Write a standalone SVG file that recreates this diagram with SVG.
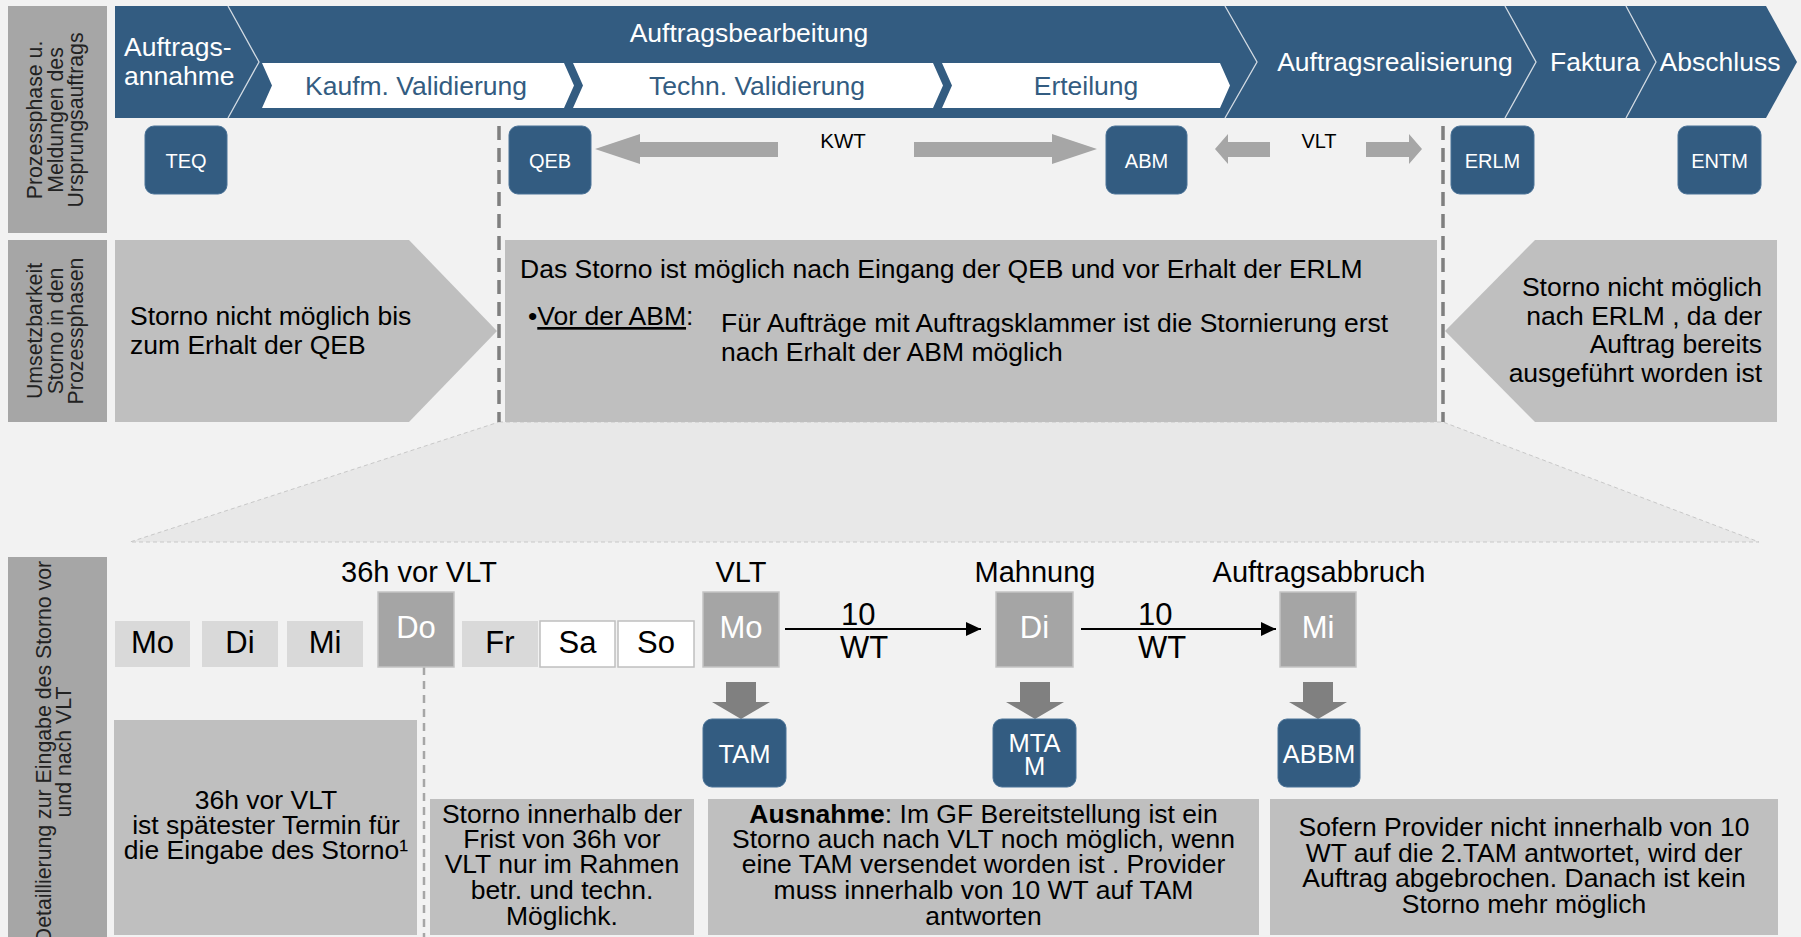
<svg xmlns="http://www.w3.org/2000/svg" width="1801" height="937" viewBox="0 0 1801 937">
<defs>
<style>
text{font-family:"Liberation Sans",Arial,sans-serif}
.lbl{fill:#a6a6a6}
.lbltx{font-size:21.3px;fill:#222}
.ban{fill:#335c81}
.sep{fill:none;stroke:#d3dbe3;stroke-width:1.3}
.wch{fill:#fff}
.wt{fill:#fff;font-size:26.5px}
.bt{fill:#335c81;font-size:26.5px}
.msg{fill:#335c81;stroke:#4a7297;stroke-width:1}
.mt{fill:#fff;font-size:20px}
.mt2{fill:#fff;font-size:25.5px}
.g1{fill:#bfbfbf}
.tx{fill:#000;font-size:26.5px}
.blk{fill:#a6a6a6}
.dash{stroke:#7f7f7f;stroke-width:3.5;stroke-dasharray:14 8;fill:none}
.day{fill:#d9d9d9}
.dayw{fill:#fff;stroke:#bfbfbf;stroke-width:1.5}
.bigd{fill:#a5a5a5;stroke:#c4c4c4;stroke-width:1.5}
.dt{font-size:31px;fill:#000}
.dtw{font-size:31px;fill:#fff}
.top{font-size:29px;fill:#000}
.darr{fill:#808080}
.conn{stroke:#000;stroke-width:2;fill:none}
</style>
<marker id="ah" markerWidth="16" markerHeight="14" refX="15" refY="7" orient="auto" markerUnits="userSpaceOnUse">
<path d="M0,0 L15,7 L0,14 Z" fill="#000"/>
</marker>
</defs>
<rect width="1801" height="937" fill="#f2f2f2"/>

<g id="labels">
<rect class="lbl" x="8" y="6" width="99" height="227"/>
<text class="lbltx" transform="translate(0,120) rotate(-90)" text-anchor="middle"><tspan x="0" y="42">Prozessphase u.</tspan><tspan x="0" y="62.5">Meldungen des</tspan><tspan x="0" y="83">Ursprungsauftrags</tspan></text>
<rect class="lbl" x="8" y="240" width="99" height="182"/>
<text class="lbltx" transform="translate(0,331) rotate(-90)" text-anchor="middle"><tspan x="0" y="42">Umsetzbarkeit</tspan><tspan x="0" y="62.5">Storno in den</tspan><tspan x="0" y="83">Prozessphasen</tspan></text>
<rect class="lbl" x="8" y="557" width="99" height="380"/>
<text class="lbltx" transform="translate(0,752) rotate(-90)" text-anchor="middle"><tspan x="0" y="51">Detaillierung  zur Eingabe des Storno vor</tspan><tspan x="0" y="71">und nach VLT</tspan></text>
</g>

<g id="banner">
<path class="ban" d="M115,6 H1766 L1797,62 L1766,118 H115 Z"/>
<polyline class="sep" points="228,6 259,62 228,118"/>
<polyline class="sep" points="1225,6 1257,62 1225,118"/>
<polyline class="sep" points="1505,6 1536,62 1505,118"/>
<polyline class="sep" points="1626,6 1656,62 1626,118"/>
<text class="wt" x="124" y="56">Auftrags-</text>
<text class="wt" x="124" y="85">annahme</text>
<text class="wt" x="749" y="42" text-anchor="middle">Auftragsbearbeitung</text>
<text class="wt" x="1395" y="71" text-anchor="middle">Auftragsrealisierung</text>
<text class="wt" x="1595" y="71" text-anchor="middle">Faktura</text>
<text class="wt" x="1720" y="71" text-anchor="middle">Abschluss</text>
</g>
<g id="phase-kaufm">
<path class="wch" d="M262,63 H564 L574,85.5 L564,108 H262 L272,85.5 Z"/>
<text class="bt" x="416" y="95" text-anchor="middle">Kaufm. Validierung</text>
</g>
<g id="phase-techn">
<path class="wch" d="M573,63 H933 L943,85.5 L933,108 H573 L583,85.5 Z"/>
<text class="bt" x="757" y="95" text-anchor="middle">Techn. Validierung</text>
</g>
<g id="phase-erteilung">
<path class="wch" d="M942,63 H1220 L1230,85.5 L1220,108 H942 L952,85.5 Z"/>
<text class="bt" x="1086" y="95" text-anchor="middle">Erteilung</text>
</g>

<g id="msg-teq"><rect class="msg" x="145" y="126" width="82" height="68" rx="9"/><text class="mt" x="186" y="168" text-anchor="middle">TEQ</text></g>
<g id="msg-qeb"><rect class="msg" x="509" y="126" width="82" height="68" rx="9"/><text class="mt" x="550" y="168" text-anchor="middle">QEB</text></g>
<g id="msg-abm"><rect class="msg" x="1106" y="126" width="81" height="68" rx="9"/><text class="mt" x="1146.5" y="168" text-anchor="middle">ABM</text></g>
<g id="msg-erlm"><rect class="msg" x="1451" y="126" width="83" height="68" rx="9"/><text class="mt" x="1492.5" y="168" text-anchor="middle">ERLM</text></g>
<g id="msg-entm"><rect class="msg" x="1678" y="126" width="83" height="68" rx="9"/><text class="mt" x="1719.5" y="168" text-anchor="middle">ENTM</text></g>

<g id="zoom-funnel">
<polygon points="499,422 1443,422 1759,542 130,542" fill="#e8e8e8" stroke="#c8c8c8" stroke-width="1" stroke-dasharray="4 3"/>
</g>

<g id="row2-left">
<path class="g1" d="M115,240 H409 L497,331 L409,422 H115 Z"/>
<text class="tx" x="130" y="325">Storno nicht möglich bis</text>
<text class="tx" x="130" y="354">zum Erhalt der QEB</text>
</g>
<g id="row2-middle">
<rect class="g1" x="505" y="240" width="932" height="182"/>
<text class="tx" x="520" y="278">Das Storno ist möglich nach Eingang der QEB und vor Erhalt der ERLM</text>
<text class="tx" x="528" y="325">•<tspan text-decoration="underline">Vor der ABM</tspan>:</text>
<text class="tx" x="721" y="332">Für Aufträge mit Auftragsklammer ist die Stornierung erst</text>
<text class="tx" x="721" y="361">nach Erhalt der ABM möglich</text>
</g>
<g id="row2-right">
<path class="g1" d="M1535,240 H1777 V422 H1535 L1445,331 Z"/>
<text class="tx" text-anchor="end"><tspan x="1762" y="296">Storno nicht möglich</tspan><tspan x="1762" y="325">nach ERLM , da der</tspan><tspan x="1762" y="353">Auftrag bereits</tspan><tspan x="1762" y="382">ausgeführt worden ist</tspan></text>
</g>

<g id="kwt-vlt">
<polygon class="blk" points="595,149 640,134 640,142 778,142 778,157 640,157 640,164"/>
<polygon class="blk" points="1097,149 1052,134 1052,142 914,142 914,157 1052,157 1052,164"/>
<text x="843" y="148" text-anchor="middle" font-size="20.5" fill="#000">KWT</text>
<polygon class="blk" points="1215,149 1228,134 1228,142 1270,142 1270,157 1228,157 1228,164"/>
<polygon class="blk" points="1422,149 1409,134 1409,142 1366,142 1366,157 1409,157 1409,164"/>
<text x="1319" y="148" text-anchor="middle" font-size="20" fill="#000">VLT</text>
</g>

<g id="dividers">
<line class="dash" x1="499" y1="126" x2="499" y2="422"/>
<line class="dash" x1="1443" y1="126" x2="1443" y2="422"/>
<line x1="424" y1="667" x2="424" y2="937" stroke="#a6a6a6" stroke-width="2.5" stroke-dasharray="8 6"/>
</g>

<g id="days">
<rect class="day" x="115" y="621" width="75" height="46"/><text class="dt" x="152.5" y="653" text-anchor="middle">Mo</text>
<rect class="day" x="202" y="621" width="76" height="46"/><text class="dt" x="240" y="653" text-anchor="middle">Di</text>
<rect class="day" x="287" y="621" width="76" height="46"/><text class="dt" x="325" y="653" text-anchor="middle">Mi</text>
<rect class="day" x="462" y="621" width="76" height="46"/><text class="dt" x="500" y="653" text-anchor="middle">Fr</text>
<rect class="dayw" x="540" y="621" width="75" height="46"/><text class="dt" x="577.5" y="653" text-anchor="middle">Sa</text>
<rect class="dayw" x="618" y="621" width="76" height="46"/><text class="dt" x="656" y="653" text-anchor="middle">So</text>
</g>
<g id="day-do">
<text class="top" x="419" y="582" text-anchor="middle">36h vor VLT</text>
<rect class="bigd" x="378" y="592" width="76" height="75"/><text class="dtw" x="416" y="638" text-anchor="middle">Do</text>
</g>
<g id="day-vlt">
<text class="top" x="741" y="582" text-anchor="middle">VLT</text>
<rect class="bigd" x="703" y="592" width="76" height="75"/><text class="dtw" x="741" y="638" text-anchor="middle">Mo</text>
</g>
<g id="day-mahnung">
<text class="top" x="1035" y="582" text-anchor="middle">Mahnung</text>
<rect class="bigd" x="996" y="592" width="77" height="75"/><text class="dtw" x="1034.5" y="638" text-anchor="middle">Di</text>
</g>
<g id="day-abbruch">
<text class="top" x="1319" y="582" text-anchor="middle">Auftragsabbruch</text>
<rect class="bigd" x="1280" y="592" width="76" height="75"/><text class="dtw" x="1318" y="638" text-anchor="middle">Mi</text>
</g>

<g id="connectors">
<line class="conn" x1="785" y1="629" x2="981" y2="629" marker-end="url(#ah)"/>
<line class="conn" x1="1081" y1="629" x2="1276" y2="629" marker-end="url(#ah)"/>
<text class="dt" x="841" y="625">10</text>
<text class="dt" x="840" y="658">WT</text>
<text class="dt" x="1138" y="625">10</text>
<text class="dt" x="1138" y="658">WT</text>
<polygon class="darr" points="726,682 756,682 756,702 770,702 741,719 712,702 726,702"/>
<polygon class="darr" points="1020,682 1050,682 1050,702 1064,702 1035,719 1006,702 1020,702"/>
<polygon class="darr" points="1303,682 1333,682 1333,702 1347,702 1318,719 1289,702 1303,702"/>
</g>

<g id="msg-tam"><rect class="msg" x="703" y="719" width="83" height="68" rx="9"/><text class="mt2" x="744.5" y="763" text-anchor="middle">TAM</text></g>
<g id="msg-mtam"><rect class="msg" x="993" y="719" width="83" height="68" rx="9"/><text class="mt2" text-anchor="middle"><tspan x="1034.5" y="752">MTA</tspan><tspan x="1034.5" y="775">M</tspan></text></g>
<g id="msg-abbm"><rect class="msg" x="1278" y="719" width="82" height="68" rx="9"/><text class="mt2" x="1319" y="763" text-anchor="middle">ABBM</text></g>

<g id="note-36h">
<rect class="g1" x="114" y="720" width="303" height="215"/>
<text class="tx" text-anchor="middle"><tspan x="266" y="809">36h vor VLT</tspan><tspan x="266" y="834">ist spätester Termin für</tspan><tspan x="266" y="859">die Eingabe des Storno¹</tspan></text>
</g>
<g id="note-frist">
<rect class="g1" x="430" y="799" width="264" height="136"/>
<text class="tx" text-anchor="middle"><tspan x="562" y="823">Storno innerhalb der</tspan><tspan x="562" y="848">Frist von 36h vor</tspan><tspan x="562" y="873">VLT nur im Rahmen</tspan><tspan x="562" y="899">betr. und techn.</tspan><tspan x="562" y="925">Möglichk.</tspan></text>
</g>
<g id="note-ausnahme">
<rect class="g1" x="708" y="799" width="551" height="136"/>
<text class="tx" text-anchor="middle"><tspan x="983.5" y="823"><tspan font-weight="bold">Ausnahme</tspan>: Im GF Bereitstellung ist ein</tspan><tspan x="983.5" y="848">Storno auch nach VLT noch möglich, wenn</tspan><tspan x="983.5" y="873">eine TAM versendet worden ist . Provider</tspan><tspan x="983.5" y="899">muss innerhalb von 10 WT auf TAM</tspan><tspan x="983.5" y="925">antworten</tspan></text>
</g>
<g id="note-abbruch">
<rect class="g1" x="1270" y="799" width="508" height="136"/>
<text class="tx" text-anchor="middle"><tspan x="1524" y="836">Sofern Provider nicht innerhalb von 10</tspan><tspan x="1524" y="862">WT auf die 2.TAM antwortet, wird der</tspan><tspan x="1524" y="887">Auftrag abgebrochen. Danach ist kein</tspan><tspan x="1524" y="913">Storno mehr möglich</tspan></text>
</g>
</svg>
